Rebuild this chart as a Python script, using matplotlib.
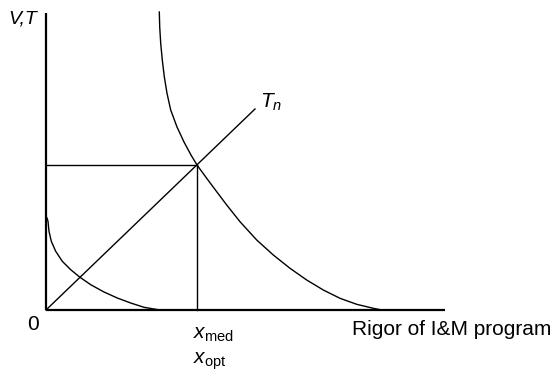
'''
plot.py
V,T versus rigor of I&M program sketch
'''
import matplotlib
matplotlib.use('Agg')
import matplotlib.pyplot as plt

plt.rcParams['font.family'] = 'Liberation Sans'
plt.rcParams['mathtext.fontset'] = 'custom'
plt.rcParams['mathtext.rm'] = 'Liberation Sans'
plt.rcParams['mathtext.it'] = 'Liberation Sans:italic'

#curve (decreasing curve V, upper)
V_x = [113.3, 113.7, 114.7, 116.3, 118.3, 121, 124.7, 131, 138, 145, 151,
       160.7, 170.7, 180.7, 194, 210.7, 227.3, 244, 260.7, 277.3, 294,
       310.7, 327.3, 335.7]
V_y = [298, 283.3, 266.7, 250, 233.3, 216.7, 200, 183, 168, 155, 145,
       131.7, 118.3, 105, 88.3, 70, 55, 41.7, 30, 20, 11.7,
       5.7, 1.7, 0]

#lower decreasing curve
L_x = [1, 2, 3, 5.3, 9.7, 16.3, 24.7, 34, 44.7, 58, 71.3, 84.7, 98, 108, 114]
L_y = [92, 88.7, 78.7, 68.7, 58.7, 48.7, 40.3, 32.7, 25.3, 18, 12, 7, 2.7, 1, 0]

#T_n straight line
Tn_x = [0, 209]
Tn_y = [0, 201]

#optimum point
x_opt = 151
v_opt = 145

#axis extents
x_max = 399
y_max = 297

fig = plt.figure(figsize=(5.53, 3.8), dpi=100)
ax = fig.add_axes([0, 0, 1, 1])
ax.set_xlim(-46, 507)
ax.set_ylim(-70, 310)
ax.axis('off')

#axes
ax.plot([0, 0], [0, y_max], color='black', lw=1.6, solid_capstyle='butt')
ax.plot([0, x_max], [0, 0], color='black', lw=1.6, solid_capstyle='butt')

#curves
ax.plot(V_x, V_y, color='black', lw=1.0)
ax.plot(L_x, L_y, color='black', lw=1.0)
ax.plot(Tn_x, Tn_y, color='black', lw=1.0)

#guide lines at the optimum
ax.plot([0, x_opt], [v_opt, v_opt], color='black', lw=1.0)
ax.plot([x_opt, x_opt], [0, v_opt], color='black', lw=1.0)

#labels
fs = 15
ax.text(-38, 287, 'V,T', style='italic', fontsize=14, ha='left', va='baseline')
ax.text(214, 202, r'$T_n$', fontsize=fs, ha='left', va='baseline')
ax.text(-13.5, -20, '0', fontsize=fs, ha='center', va='baseline')
ax.text(147, -29, r'$x_{\rm med}$', fontsize=fs, ha='left', va='baseline')
ax.text(147, -54, r'$x_{\rm opt}$', fontsize=fs, ha='left', va='baseline')
ax.text(306, -25, 'Rigor of I&M program', fontsize=fs, ha='left', va='baseline')

plt.savefig('out.png', dpi=100)
